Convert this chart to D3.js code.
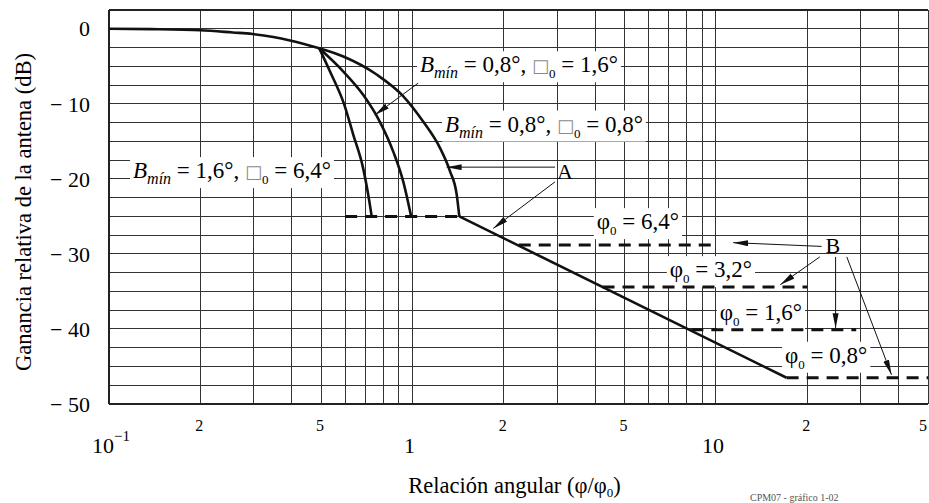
<!DOCTYPE html>
<html lang="es">
<head>
  <meta charset="UTF-8">
  <title>Ganancia relativa de la antena</title>
  <style>
    body { margin: 0; background: #fff; }
    svg { display: block; }
    svg text { font-family: "Liberation Serif", "DejaVu Serif", "Times New Roman", Times, serif; }
    .grid line { stroke: #333; stroke-width: 1; shape-rendering: crispEdges; }
    .curve { fill: none; stroke: #111; stroke-width: 2.6; stroke-linejoin: round; }
    .floor { fill: none; stroke: #111; stroke-width: 3; stroke-dasharray: 12 8; }
    .arrow { stroke: #111; stroke-width: 1; }
  </style>
  <script src="https://d3js.org/d3.v7.min.js"></script>
</head>
<body>
  <div id="chart"></div>

  <script>
    // Ticks
    var xMajorTicks = [0.1, 1, 10];
    var xMinorTicks = [0.2, 0.5, 2, 5, 20, 50];
    var yTicks = [0, -10, -20, -30, -40, -50];

    // Lóbulo principal común (φ/φ0, dB)
    var mainLobe = [[0.1, 0], [0.137, -0.05], [0.2, -0.2], [0.256, -0.5], [0.297, -0.7], [0.348, -1.1], [0.395, -1.56], [0.493, -2.6]];

    // Ramas hasta -25 dB
    var branchB16phi64 = [[0.493, -2.6], [0.535, -5.7], [0.596, -10.1], [0.638, -14.1], [0.688, -18.6], [0.721, -23.0], [0.734, -25]];
    var branchB08phi16 = [[0.493, -2.6], [0.592, -5.7], [0.688, -8.8], [0.781, -12.4], [0.865, -16.4], [0.933, -20.4], [0.99, -25]];
    var branchB08phi08 = [[0.493, -2.6], [0.592, -3.7], [0.762, -6.1], [0.933, -9.0], [1.086, -12.4], [1.233, -15.9], [1.33, -19.0], [1.399, -22.1], [1.427, -25]];

    // Recta A
    var lineA = [[1.427, -25], [17.1, -46.5]];

    // Niveles B (trazos discontinuos)
    var floorLevel = [-25, -28.8, -34.4, -40.1, -46.5];
    var floorStart = [0.6, 2.24, 4.23, 8.3, 17.1];
    var floorEnd = [1.427, 10, 20, 29, 50];

    var width = 929, height = 503;
    var margin = { top: 10, right: 1, bottom: 99, left: 109 };

    var x = d3.scaleLog().domain([0.1, 50]).range([margin.left, width - margin.right]);
    var y = d3.scaleLinear().domain([-50, 2.5]).range([height - margin.bottom, margin.top]);

    var svg = d3.select("#chart").append("svg")
      .attr("width", width)
      .attr("height", height)
      .attr("font-family", "'Liberation Serif', 'DejaVu Serif', serif");

    // Rejilla
    var xGrid = d3.range(1, 10).map(function(d) { return d / 10; })
      .concat(d3.range(1, 10), d3.range(10, 51, 10));
    var yGrid = d3.range(-50, 2.6, 2.5);

    var grid = svg.append("g").attr("class", "grid");
    grid.selectAll(".v").data(xGrid).enter().append("line")
      .attr("x1", function(d) { return x(d); })
      .attr("x2", function(d) { return x(d); })
      .attr("y1", y(2.5))
      .attr("y2", y(-50));
    grid.selectAll(".h").data(yGrid).enter().append("line")
      .attr("x1", x(0.1))
      .attr("x2", x(50))
      .attr("y1", function(d) { return y(d); })
      .attr("y2", function(d) { return y(d); });

    // Etiquetas del eje y
    svg.append("g").selectAll("text").data(yTicks).enter().append("text")
      .attr("x", x(0.1) - 19)
      .attr("y", function(d) { return y(d); })
      .attr("dy", "0.35em")
      .attr("text-anchor", "end")
      .attr("font-size", 22)
      .text(function(d) { return d === 0 ? "0" : "\u2212 " + Math.abs(d); });

    // Etiquetas del eje x
    var xl = svg.append("g").attr("font-size", 22).attr("text-anchor", "middle");
    xMajorTicks.forEach(function(d) {
      var t = xl.append("text").attr("x", d === 0.1 ? x(d) + 2 : x(d) - 3).attr("y", height - margin.bottom + 49);
      if (d === 0.1) {
        t.append("tspan").text("10");
        t.append("tspan").attr("dy", -12).attr("font-size", 15).text("\u22121");
      } else {
        t.text(d);
      }
    });
    xl.selectAll(".minor").data(xMinorTicks).enter().append("text")
      .attr("x", function(d) { return d === 50 ? x(d) - 5 : x(d) - 1; })
      .attr("y", height - margin.bottom + 27)
      .attr("font-size", 16)
      .text(function(d) { return String(d).replace("0.", "").replace("0", ""); });

    // Títulos
    var xt = svg.append("text")
      .attr("x", (x(0.1) + x(50)) / 2 - 4)
      .attr("y", 493)
      .attr("text-anchor", "middle")
      .attr("font-size", 22.5);
    xt.append("tspan").text("Relación angular (\u03c6/\u03c6");
    xt.append("tspan").attr("font-size", 13).attr("dy", 4).text("0");
    xt.append("tspan").attr("dy", -4).text(")");

    svg.append("text")
      .attr("transform", "translate(31," + ((y(2.5) + y(-50)) / 2 + 5) + ") rotate(-90)")
      .attr("text-anchor", "middle")
      .attr("font-size", 22.5)
      .text("Ganancia relativa de la antena (dB)");

    svg.append("text")
      .attr("x", 750)
      .attr("y", 501)
      .attr("font-size", 10)
      .attr("fill", "#555")
      .text("CPM07 - gráfico 1-02");

    // Marco
    svg.append("g").attr("class", "grid").selectAll("line")
      .data([[x(0.1), y(2.5), x(0.1), y(-50)], [x(0.1), y(-50), x(50), y(-50)], [x(0.1), y(2.5), x(50), y(2.5)]])
      .enter().append("line")
      .attr("x1", function(d) { return d[0]; }).attr("y1", function(d) { return d[1]; })
      .attr("x2", function(d) { return d[2]; }).attr("y2", function(d) { return d[3]; })
      .style("stroke", "#222").style("stroke-width", 1.5);

    // Rótulos con fondo blanco
    function label(xv, yv, parts) {
      var g = svg.append("g");
      var t = g.append("text").attr("x", x(xv)).attr("y", y(yv)).attr("font-size", 23);
      var shift = 0;
      parts.forEach(function(p) {
        var s = t.append("tspan").text(p.t);
        var want = p.sub ? 6 : 0;
        if (want !== shift) { s.attr("dy", want - shift); shift = want; }
        if (p.sub) s.attr("font-size", p.t === "0" ? 13 : 16);
        if (p.it) s.attr("font-style", "italic");
        if (p.box) s.attr("fill", "#8a8a8a").attr("font-size", 18).style("font-family", "'DejaVu Sans'");
      });
      var b = t.node().getBBox();
      g.insert("rect", "text")
        .attr("x", b.x - 3).attr("y", b.y - 1)
        .attr("width", b.width + 6).attr("height", b.height + 2)
        .attr("fill", "#fff");
    }

    function bLabel(xv, yv, bmin, phi) {
      label(xv, yv, [
        { t: "B", it: true }, { t: "mín", it: true, sub: true },
        { t: " = " + bmin + "°, " }, { t: "\u25a1", box: true }, { t: "0", sub: true },
        { t: " = " + phi + "°" }
      ]);
    }
    function phiLabel(xv, yv, phi) {
      label(xv, yv, [{ t: "\u03c6" }, { t: "0", sub: true }, { t: " = " + phi + "°" }]);
    }

    bLabel(1.059, -5.8, "0,8", "1,6");
    bLabel(1.28, -13.7, "0,8", "0,8");
    bLabel(0.12, -19.9, "1,6", "6,4");
    phiLabel(4.05, -26.7, "6,4");
    phiLabel(7.05, -33.1, "3,2");
    phiLabel(10.3, -38.8, "1,6");
    phiLabel(16.9, -44.5, "0,8");

    // Curvas
    var line = d3.line()
      .x(function(d) { return x(d[0]); })
      .y(function(d) { return y(d[1]); });
    var smooth = d3.line()
      .x(function(d) { return x(d[0]); })
      .y(function(d) { return y(d[1]); })
      .curve(d3.curveMonotoneX);

    [mainLobe, branchB16phi64, branchB08phi16, branchB08phi08].forEach(function(c) {
      svg.append("path").attr("class", "curve").attr("d", smooth(c));
    });
    svg.append("path").attr("class", "curve").attr("d", line(lineA));

    svg.append("g").selectAll("path").data(floorLevel).enter().append("path")
      .attr("class", "floor")
      .attr("d", function(d, i) { return line([[floorStart[i], d], [floorEnd[i], d]]); });

    // Flechas
    svg.append("defs").append("marker")
      .attr("id", "head")
      .attr("markerUnits", "userSpaceOnUse")
      .attr("markerWidth", 16).attr("markerHeight", 8)
      .attr("refX", 15).attr("refY", 3)
      .attr("orient", "auto")
      .append("path").attr("d", "M0,0 L15,3 L0,6 Z").attr("fill", "#111");

    var arrows = [
      [1.045, -7.24, 0.752, -11.5],
      [2.95, -18.44, 1.296, -18.44],
      [2.95, -20.4, 1.846, -26.6],
      [22.3, -29.0, 11.4, -28.5],
      [22.0, -30.4, 16.3, -34.1],
      [24.8, -30.4, 24.8, -39.9],
      [27.0, -30.4, 37.9, -46.1]
    ];
    svg.append("g").selectAll("line").data(arrows).enter().append("line")
      .attr("class", "arrow")
      .attr("x1", function(d) { return x(d[0]); }).attr("y1", function(d) { return y(d[1]); })
      .attr("x2", function(d) { return x(d[2]); }).attr("y2", function(d) { return y(d[3]); })
      .attr("marker-end", "url(#head)");

    svg.append("text").attr("x", x(3.18)).attr("y", y(-18.95)).attr("dy", "0.35em")
      .attr("text-anchor", "middle").attr("font-size", 22).text("A");
    svg.append("text").attr("x", x(24.3)).attr("y", y(-28.9)).attr("dy", "0.35em")
      .attr("text-anchor", "middle").attr("font-size", 22).text("B");
  </script>
</body>
</html>
